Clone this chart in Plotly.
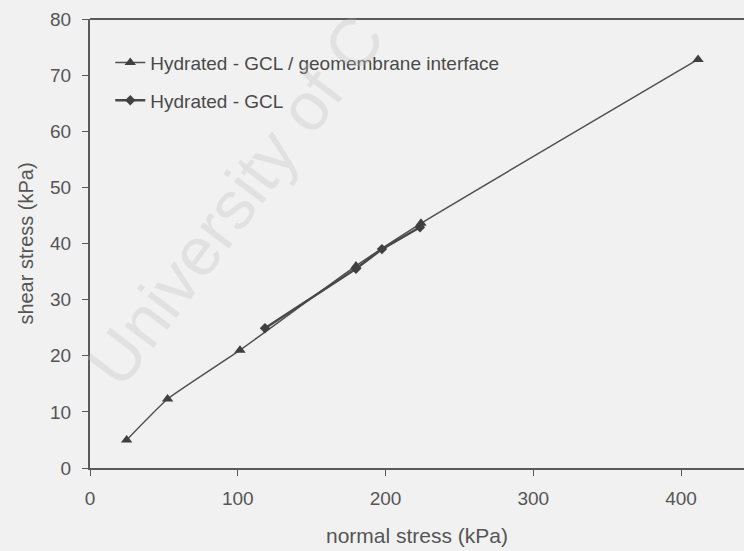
import plotly.graph_objects as go

# Data
interface_x = [24.8, 52.5, 101.5, 180.0, 224.0, 411.5]
interface_y = [5.0, 12.3, 21.0, 36.0, 43.6, 72.8]
gcl_x = [118.4, 180.0, 197.6, 223.3]
gcl_y = [24.9, 35.5, 39.0, 42.9]
x_ticks = [0, 100, 200, 300, 400]
y_ticks = [0, 10, 20, 30, 40, 50, 60, 70, 80]

LINE = "#505050"
AX = "#5a5a5a"
FONT = "Liberation Sans, Arial, sans-serif"
BG = "#f1f1f1"

fig = go.Figure()
fig.add_trace(go.Scatter(
    x=interface_x, y=interface_y, mode="lines+markers",
    name="Hydrated - GCL / geomembrane interface", legendgroup="a",
    line=dict(color=LINE, width=1.5, shape="spline", smoothing=0.4),
    marker=dict(symbol="triangle-up", size=10, color="#404040"),
))
fig.add_trace(go.Scatter(
    x=gcl_x, y=gcl_y, mode="lines+markers",
    name="Hydrated - GCL", legendgroup="b",
    line=dict(color="#484848", width=2.5),
    marker=dict(symbol="diamond", size=8, color="#404040"),
))

fig.update_layout(
    width=744, height=551,
    margin=dict(l=90, r=0, t=19, b=83),
    paper_bgcolor=BG, plot_bgcolor=BG,
    font=dict(family=FONT, color="#555555", size=19),
    showlegend=True,
    legend=dict(x=0.031, y=0.945, xanchor="left", yanchor="top",
                bgcolor="rgba(0,0,0,0)", font=dict(size=19, color="#4a4a4a"),
                tracegroupgap=10, itemwidth=30),
    xaxis=dict(range=[0, 442.6], tickvals=x_ticks, showgrid=False, zeroline=False,
               showline=True, linecolor=AX, linewidth=2,
               ticks="outside", ticklen=6, tickcolor=AX, ticklabelstandoff=6,
               title=dict(text="normal stress (kPa)", font=dict(size=21), standoff=21),
               tickfont=dict(size=19)),
    yaxis=dict(range=[0, 80], tickvals=y_ticks, showgrid=False, zeroline=False,
               showline=True, linecolor=AX, linewidth=2,
               ticks="outside", ticklen=6, tickcolor=AX, ticklabelstandoff=7,
               title=dict(text="shear stress (kPa)", font=dict(size=20), standoff=11),
               tickfont=dict(size=19)),
)

fig.add_shape(type="line", xref="paper", yref="paper", x0=0, x1=1, y0=1, y1=1,
              line=dict(color=AX, width=2))

fig.add_annotation(
    text="University of C", xref="paper", yref="paper",
    x=0.222, y=0.597, xanchor="center", yanchor="middle",
    showarrow=False, textangle=-53,
    font=dict(size=68, color="rgba(190,190,190,0.3)", family=FONT),
)

fig.write_html("out.html")
